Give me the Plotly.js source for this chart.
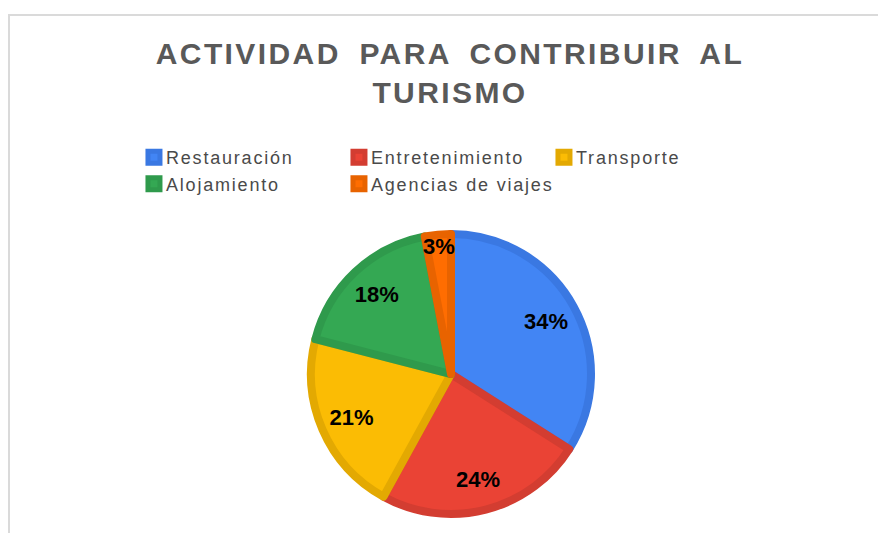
<!DOCTYPE html>
<html>
<head>
<meta charset="utf-8">
<script src="https://cdn.plot.ly/plotly-3.0.1.min.js"></script>
<style>
  html, body { margin: 0; padding: 0; background: #ffffff; }
  #wrap { position: relative; width: 878px; height: 533px; overflow: hidden; }
  #chart { position: absolute; left: 0; top: 0; width: 878px; height: 533px; }
  #frame { position: absolute; left: 8px; top: 14px; width: 900px; height: 600px;
           border-top: 2px solid #dadada; border-left: 2px solid #dadada; pointer-events: none; }
  .gtitle { letter-spacing: 2.4px; word-spacing: 8px; }
  .legendtext { letter-spacing: 1.8px; transform: translateX(-8px); }
</style>
</head>
<body>
<div id="wrap">
  <div id="chart"></div>
  <div id="frame"></div>
</div>
<script>
// ---- data ----
const categories = ['Restauración', 'Entretenimiento', 'Transporte', 'Alojamiento', 'Agencias de viajes'];
const values = [34, 24, 21, 18, 3];
const fillColors = ['#4285f4', '#ea4335', '#fbbc04', '#34a853', '#ff6d01'];
const borderColors = ['#3a78e2', '#d33d31', '#e3a902', '#2f9a4c', '#e86300'];
const chartTitle = 'ACTIVIDAD PARA CONTRIBUIR AL<br>TURISMO';

const pieDomain = { x: [0.29937, 0.73825], y: [0.03565, 0.56097] };

const slices = {
  type: 'pie',
  labels: categories,
  values: values,
  sort: false,
  direction: 'clockwise',
  rotation: 0,
  domain: pieDomain,
  marker: { colors: fillColors, line: { color: borderColors, width: 8 } },
  textinfo: 'none',
  hoverinfo: 'skip',
  showlegend: true
};

const labelsLayer = {
  type: 'pie',
  labels: categories,
  values: values,
  sort: false,
  direction: 'clockwise',
  rotation: 0,
  hole: 0.55,
  domain: pieDomain,
  marker: { colors: fillColors.map(() => 'rgba(0,0,0,0)'), line: { width: 0 } },
  texttemplate: '%{percent:.0%}',
  textposition: 'inside',
  insidetextorientation: 'horizontal',
  insidetextfont: { family: 'Liberation Sans, Arial, sans-serif', size: 22, color: '#000000', weight: 'bold' },
  hoverinfo: 'skip',
  showlegend: false
};

const layout = {
  width: 878,
  height: 533,
  margin: { l: 120, r: 120, t: 0, b: 0 },
  paper_bgcolor: '#ffffff',
  plot_bgcolor: '#ffffff',
  title: {
    text: chartTitle,
    font: { family: 'Liberation Sans, Arial, sans-serif', size: 30, color: '#595959', weight: 'bold' },
    xref: 'container', yref: 'container',
    x: 0.5125, xanchor: 'center',
    y: 0.8799, yanchor: 'top'
  },
  showlegend: true,
  legend: {
    orientation: 'h',
    x: 0.0219, xanchor: 'left',
    y: 0.739, yanchor: 'top',
    entrywidth: 160,
    entrywidthmode: 'pixels',
    font: { family: 'Liberation Sans, Arial, sans-serif', size: 18, color: '#4a4a4a' },
    bgcolor: 'rgba(0,0,0,0)',
    borderwidth: 0,
    traceorder: 'normal'
  },
  uniformtext: { mode: 'show', minsize: 22 }
};

Plotly.newPlot('chart', [slices, labelsLayer], layout, { displayModeBar: false, staticPlot: true });
</script>
</body>
</html>
